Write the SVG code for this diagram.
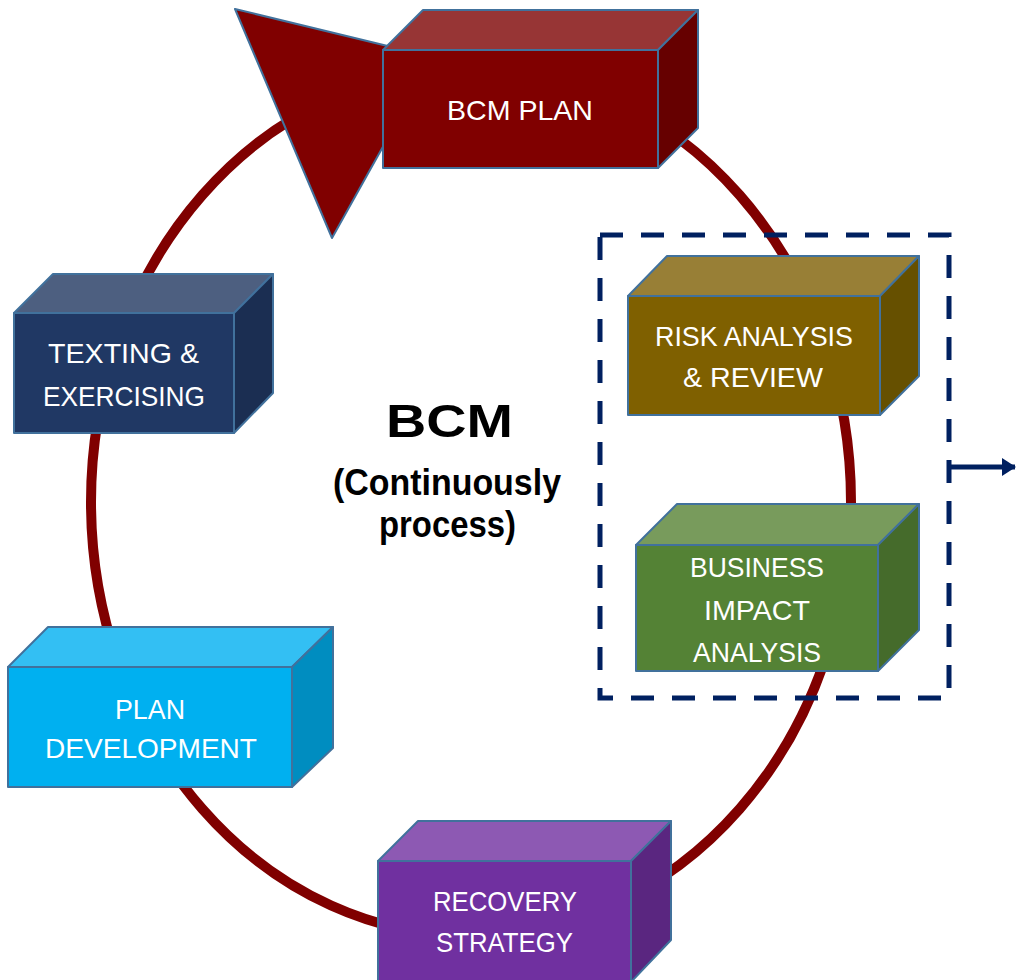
<svg xmlns="http://www.w3.org/2000/svg" width="1016" height="980" viewBox="0 0 1016 980">
  <style>
    .face { stroke: #41719C; stroke-width: 2; stroke-linejoin: round; }
    .label { font-family: "Liberation Sans", Arial, sans-serif; font-size: 28px; fill: #FFFFFF; }
    .title { font-family: "Liberation Sans", Arial, sans-serif; font-weight: bold; fill: #000000; }
    .ring { fill: none; stroke: #800000; stroke-width: 10; }
  </style>
  <defs>
    <marker id="arrowhead" viewBox="0 0 14 18" refX="13" refY="9" markerWidth="14" markerHeight="18" markerUnits="userSpaceOnUse" orient="auto">
      <path d="M0,0 L14,9 L0,18 Z" fill="#002060"/>
    </marker>
  </defs>
  <rect width="1016" height="980" fill="#FFFFFF"/>

  <!-- cycle ring and its arrowhead, plus the outgoing arrow -->
  <g id="connectors">
    <ellipse class="ring" cx="471" cy="502" rx="380" ry="434"/>
    <polygon class="face" points="235,9 433,57 332,238" fill="#800000"/>
    <line x1="951" y1="467" x2="1015" y2="467" stroke="#002060" stroke-width="5" marker-end="url(#arrowhead)"/>
  </g>

  <!-- dashed frame around the analysis steps -->
  <g id="analysis-group">
    <rect x="600" y="235" width="349" height="463" fill="none" stroke="#002060" stroke-width="5" stroke-dasharray="23 18"/>
  </g>

  <g id="bcm-plan">
    <polygon class="face" points="383,50 423,10 698,10 658,50" fill="#973535"/>
    <polygon class="face" points="658,50 698,10 698,128 658,168" fill="#660000"/>
    <rect class="face" x="383" y="50" width="275" height="118" fill="#800000"/>
    <text class="label" x="447" y="120" textLength="146" lengthAdjust="spacingAndGlyphs">BCM PLAN</text>
  </g>

  <g id="testing-exercising">
    <polygon class="face" points="14,313 53,274 273,274 234,313" fill="#4D5F80"/>
    <polygon class="face" points="234,313 273,274 273,393 234,433" fill="#1B2E52"/>
    <rect class="face" x="14" y="313" width="220" height="120" fill="#203864"/>
    <text class="label" x="48" y="363" textLength="151" lengthAdjust="spacingAndGlyphs">TEXTING &amp;</text>
    <text class="label" x="43" y="406" textLength="162" lengthAdjust="spacingAndGlyphs">EXERCISING</text>
  </g>

  <g id="risk-analysis">
    <polygon class="face" points="628,296 667,256 919,256 880,296" fill="#987F36"/>
    <polygon class="face" points="880,296 919,256 919,376 880,415" fill="#665000"/>
    <rect class="face" x="628" y="296" width="252" height="119" fill="#7F6000"/>
    <text class="label" x="655" y="346" textLength="198" lengthAdjust="spacingAndGlyphs">RISK ANALYSIS</text>
    <text class="label" x="683" y="387" textLength="140" lengthAdjust="spacingAndGlyphs">&amp; REVIEW</text>
  </g>

  <g id="business-impact">
    <polygon class="face" points="636,545 677,504 919,504 878,545" fill="#789B5C"/>
    <polygon class="face" points="878,545 919,504 919,630 878,671" fill="#456B2B"/>
    <rect class="face" x="636" y="545" width="242" height="126" fill="#548235"/>
    <text class="label" x="690" y="577" textLength="134" lengthAdjust="spacingAndGlyphs">BUSINESS</text>
    <text class="label" x="704" y="620" textLength="106" lengthAdjust="spacingAndGlyphs">IMPACT</text>
    <text class="label" x="693" y="662" textLength="128" lengthAdjust="spacingAndGlyphs">ANALYSIS</text>
  </g>

  <g id="plan-development">
    <polygon class="face" points="8,667 48,627 333,627 292,667" fill="#33BFF3"/>
    <polygon class="face" points="292,667 333,627 333,748 292,787" fill="#008DC0"/>
    <rect class="face" x="8" y="667" width="284" height="120" fill="#00B0F0"/>
    <text class="label" x="115" y="719" textLength="70" lengthAdjust="spacingAndGlyphs">PLAN</text>
    <text class="label" x="45" y="758" textLength="212" lengthAdjust="spacingAndGlyphs">DEVELOPMENT</text>
  </g>

  <g id="recovery-strategy">
    <polygon class="face" points="378,861 418,821 671,821 631,861" fill="#8D59B3"/>
    <polygon class="face" points="631,861 671,821 671,940 631,982" fill="#5A2680"/>
    <rect class="face" x="378" y="861" width="253" height="121" fill="#7030A0"/>
    <text class="label" x="433" y="911" textLength="144" lengthAdjust="spacingAndGlyphs">RECOVERY</text>
    <text class="label" x="436" y="952" textLength="137" lengthAdjust="spacingAndGlyphs">STRATEGY</text>
  </g>

  <g id="bcm-center">
    <text class="title" x="386" y="437" font-size="46" textLength="127" lengthAdjust="spacingAndGlyphs">BCM</text>
    <text class="title" x="333" y="495" font-size="36" textLength="228" lengthAdjust="spacingAndGlyphs">(Continuously</text>
    <text class="title" x="379" y="537" font-size="36" textLength="137" lengthAdjust="spacingAndGlyphs">process)</text>
  </g>
</svg>
